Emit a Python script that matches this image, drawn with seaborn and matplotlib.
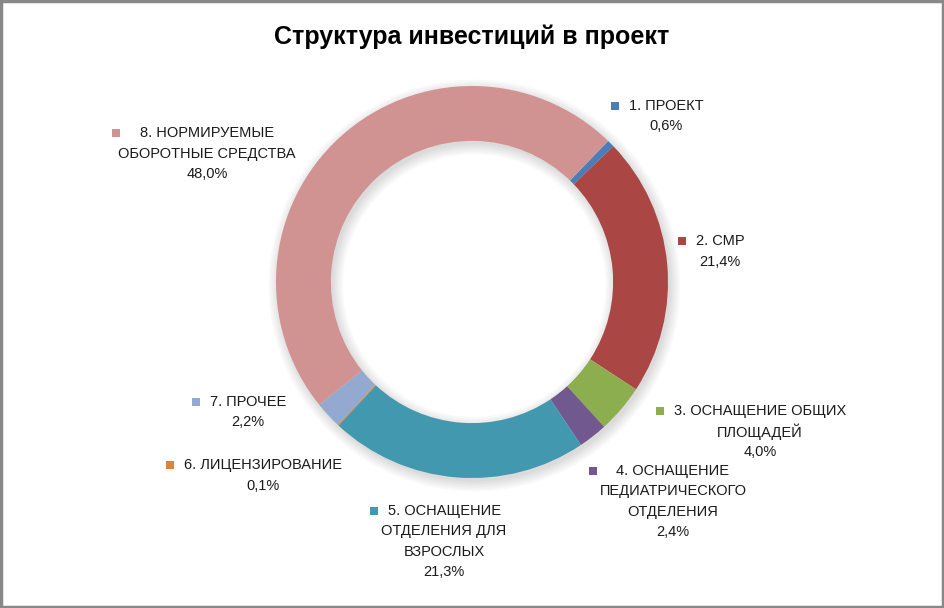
import matplotlib
matplotlib.use("Agg")
import matplotlib.pyplot as plt
import seaborn as sns
from matplotlib.patches import Rectangle, Wedge

sns.set_theme(style="white")
plt.rcParams['font.family'] = ['Liberation Sans', 'DejaVu Sans']

# данные
labels = ["1. ПРОЕКТ", "2. СМР", "3. ОСНАЩЕНИЕ ОБЩИХ\nПЛОЩАДЕЙ",
          "4. ОСНАЩЕНИЕ\nПЕДИАТРИЧЕСКОГО\nОТДЕЛЕНИЯ",
          "5. ОСНАЩЕНИЕ\nОТДЕЛЕНИЯ ДЛЯ\nВЗРОСЛЫХ", "6. ЛИЦЕНЗИРОВАНИЕ",
          "7. ПРОЧЕЕ", "8. НОРМИРУЕМЫЕ\nОБОРОТНЫЕ СРЕДСТВА"]
shares = [0.6, 21.4, 4.0, 2.4, 21.3, 0.1, 2.2, 48.0]
colors = sns.color_palette(["#4A7EBB", "#AA4644", "#8DAE4F", "#71588F",
                            "#4198AF", "#DB843D", "#93A9CF", "#D19392"])

# центр подписи по x и y первой строки (пиксели), доп. отступ маркера
label_pos = [(666, 106, 0), (720, 241, 0), (760, 411, 0), (673, 471, 10),
             (444, 511, 0), (263, 465, 0), (248, 402, 0), (207, 133, 10)]

W, H = 944, 608
fig = plt.figure(figsize=(W / 100, H / 100), dpi=100)
fig.patch.set_facecolor("white")

cx, cy, R = 472, 282, 196
L = 1.15
ax = fig.add_axes([(cx - R * L) / W, 1 - (cy + R * L) / H, 2 * R * L / W, 2 * R * L / H])

# мягкая тень
for i in range(6):
    ax.add_patch(Wedge((0.012, -0.018), 1.0 + 0.01 * i, 0, 360, width=0.28 + 0.02 * i,
                       facecolor="black", alpha=0.022, lw=0))

ax.pie(shares, colors=colors, startangle=46, counterclock=False, radius=1.0,
       wedgeprops=dict(width=0.28, edgecolor="none", linewidth=0))
ax.set_xlim(-L, L)
ax.set_ylim(-L, L)
ax.set_aspect("equal")
ax.axis("off")

fig.text(472 / W, 1 - 37 / H, "Структура инвестиций в проект", ha="center", va="center",
         fontsize=18, fontweight="bold", color="black")

fig.canvas.draw()
renderer = fig.canvas.get_renderer()
for lab, val, col, (tx, ty, gap) in zip(labels, shares, colors, label_pos):
    lines = lab.split("\n") + [f"{val:.1f}".replace(".", ",") + "%"]
    for i, line in enumerate(lines):
        t = fig.text(tx / W, 1 - (ty + 20.5 * i) / H, line, ha="center", va="center",
                     fontsize=10.5, color="#1a1a1a")
        if i == 0:
            bb = t.get_window_extent(renderer)
            mx = bb.x0 - 14 - gap
            fig.patches.append(Rectangle(((mx - 4) / W, 1 - (ty + 4) / H), 8 / W, 8 / H,
                                         transform=fig.transFigure, facecolor=col,
                                         edgecolor="none"))

fig.patches.append(Rectangle((0.001, 0.001), 0.998, 0.997, transform=fig.transFigure,
                             facecolor="none", edgecolor="#888888", linewidth=2.5))

fig.savefig("out.png", dpi=100)
